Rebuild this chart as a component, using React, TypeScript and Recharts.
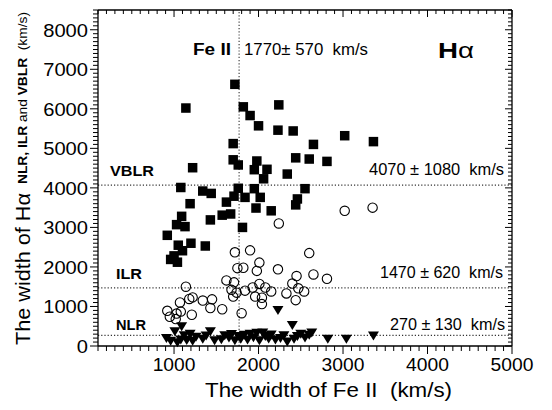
import { ScatterChart, Scatter, XAxis, YAxis, ReferenceLine } from "recharts";

const FONT = "'Liberation Sans', Arial, Helvetica, sans-serif";

// VBLR component (filled squares): Fe II width vs H-alpha width, km/s
const vblrFe = [1720, 1140, 1820, 2240, 1900, 2000, 2230, 2410, 2650, 1700, 1700, 1760, 1980, 1950, 2100, 2440, 2600, 2340, 2060, 1220, 1080, 1760, 1950, 2550, 1340, 1440, 1710, 1840, 2020, 2460, 2440, 1620, 1190, 1970, 2150, 1670, 1570, 1430, 1090, 1030, 1130, 1810, 920, 1050, 1200, 1370, 1100, 1000, 960, 1040, 3020, 3360, 2810];
const vblrHa = [6620, 6020, 6050, 6100, 5830, 5570, 5460, 5440, 5100, 5120, 4710, 4580, 4680, 4460, 4470, 4760, 4730, 4350, 4230, 4510, 4010, 3990, 3980, 3980, 3920, 3860, 3790, 3760, 3760, 3720, 3570, 3640, 3600, 3490, 3420, 3340, 3310, 3190, 3280, 3070, 3020, 3000, 2800, 2550, 2600, 2530, 2410, 2280, 2190, 2120, 5320, 5170, 4670];

// ILR component (open circles)
const ilrFe = [2240, 3020, 3350, 1720, 1900, 2600, 2010, 1750, 1820, 1980, 2230, 2450, 2650, 2810, 1620, 1710, 2400, 2010, 2080, 1680, 1840, 1740, 1700, 1930, 1960, 2040, 2040, 2150, 2330, 2440, 2470, 2540, 1140, 1070, 1180, 1220, 1340, 1450, 1430, 1570, 1210, 920, 950, 1020, 1030, 1080, 1800];
const ilrHa = [3100, 3420, 3500, 2370, 2420, 2350, 2110, 1970, 1980, 1900, 1940, 1770, 1810, 1700, 1660, 1610, 1580, 1570, 1480, 1420, 1400, 1350, 1250, 1480, 1250, 1220, 1060, 1380, 1330, 1160, 1460, 1380, 1500, 1100, 1190, 1230, 1150, 1180, 960, 930, 790, 890, 740, 680, 820, 870, 830];

// NLR component (filled down triangles)
const nlrFe = [910, 960, 1010, 1040, 1080, 1090, 1120, 1150, 1190, 1220, 1260, 1340, 1380, 1430, 1480, 1560, 1600, 1650, 1680, 1720, 1760, 1790, 1830, 1870, 1900, 1940, 1980, 2010, 2050, 2080, 2120, 2150, 2200, 2230, 2260, 2300, 2340, 2400, 2420, 2460, 2500, 2550, 2600, 2630, 2820, 3040, 3360];
const nlrHa = [190, 120, 360, 80, 150, 490, 260, 140, 300, 120, 220, 170, 250, 360, 130, 160, 260, 200, 290, 130, 240, 170, 270, 150, 300, 210, 320, 130, 330, 240, 180, 280, 150, 900, 190, 260, 100, 520, 170, 240, 300, 200, 270, 330, 170, 170, 250];

// mean widths shown as dotted guide lines
const meanFe = 1770;
const meanVblr = 4070;
const meanIlr = 1470;
const meanNlr = 270;

const xMajor = [1000, 2000, 3000, 4000, 5000];
const yMajor = [0, 1000, 2000, 3000, 4000, 5000, 6000, 7000, 8000];
const xTicks = Array.from({ length: 50 }, (_, i) => 100 + i * 100);
const yTicks = Array.from({ length: 86 }, (_, i) => i * 100);

// frame edges (chart is 552x410, axes take left 98 / right 40 / top 10 / bottom 64)
const PLOT_TOP = 10;
const PLOT_RIGHT = 512;

const toPoints = (xs: number[], ys: number[]) =>
  xs.map((fe, i) => ({ fe, ha: ys[i] }));

const vblr = toPoints(vblrFe, vblrHa);
const ilr = toPoints(ilrFe, ilrHa);
const nlr = toPoints(nlrFe, nlrHa);

const Square = ({ cx, cy }: any) => (
  <rect x={cx - 4.75} y={cy - 4.75} width={9.5} height={9.5} fill="#000" />
);
const Ring = ({ cx, cy }: any) => (
  <circle cx={cx} cy={cy} r={4.7} fill="none" stroke="#000" strokeWidth={1.1} />
);
const DownTriangle = ({ cx, cy }: any) => (
  <path
    d={`M${cx - 5.5},${cy - 4.5}L${cx + 5.5},${cy - 4.5}L${cx},${cy + 4.5}Z`}
    fill="#000"
  />
);

// bottom ticks point outward, mirrored ticks on the top edge point inward
const renderBottomTick = ({ x, y, payload }: any) => {
  const major = xMajor.includes(payload.value);
  const label = String(payload.value);
  return (
    <g key={`b-${payload.value}`}>
      <line x1={x} x2={x} y1={y} y2={y + (major ? 8 : 5)} stroke="#000" strokeWidth={1} />
      <line x1={x} x2={x} y1={PLOT_TOP} y2={PLOT_TOP + (major ? 7 : 4)} stroke="#000" strokeWidth={1} />
      {major && (
        <text
          x={x}
          y={y + 25}
          textAnchor="middle"
          fontSize={19}
          fontFamily={FONT}
          fill="#000"
          textLength={label.length * 10.7}
          lengthAdjust="spacingAndGlyphs"
        >
          {label}
        </text>
      )}
    </g>
  );
};

const renderLeftTick = ({ x, y, payload }: any) => {
  const major = yMajor.includes(payload.value);
  const label = String(payload.value);
  return (
    <g key={`l-${payload.value}`}>
      <line x1={x - (major ? 8 : 5)} x2={x} y1={y} y2={y} stroke="#000" strokeWidth={1} />
      <line x1={PLOT_RIGHT - (major ? 7 : 4)} x2={PLOT_RIGHT} y1={y} y2={y} stroke="#000" strokeWidth={1} />
      {major && (
        <text
          x={x - 10}
          y={y + 7}
          textAnchor="end"
          fontSize={19}
          fontFamily={FONT}
          fill="#000"
          textLength={label.length * 11.2}
          lengthAdjust="spacingAndGlyphs"
        >
          {label}
        </text>
      )}
    </g>
  );
};

const axisLine = { stroke: "#000", strokeWidth: 1.3 };
const guide = { stroke: "#333", strokeDasharray: "1.2 2", strokeWidth: 1.1 };

export default function App() {
  const txt = { fontFamily: FONT, fill: "#000", style: { whiteSpace: "pre" as const } };
  return (
    <div style={{ position: "absolute", left: 0, top: 0, width: 552, height: 410, background: "#fff" }}>
      <ScatterChart width={552} height={410} margin={{ top: 0, right: 0, bottom: 0, left: 0 }}>
        <XAxis
          dataKey="fe"
          type="number"
          domain={[100, 5000]}
          ticks={xTicks}
          interval={0}
          height={64}
          tickSize={0}
          tickMargin={0}
          tickLine={false}
          axisLine={axisLine}
          tick={renderBottomTick}
        />
        <XAxis
          xAxisId="top"
          orientation="top"
          type="number"
          domain={[100, 5000]}
          height={10}
          tickLine={false}
          axisLine={axisLine}
          tick={false}
        />
        <YAxis
          dataKey="ha"
          type="number"
          domain={[0, 8500]}
          ticks={yTicks}
          interval={0}
          width={98}
          tickSize={0}
          tickMargin={0}
          tickLine={false}
          axisLine={axisLine}
          tick={renderLeftTick}
        />
        <YAxis
          yAxisId="right"
          orientation="right"
          type="number"
          domain={[0, 8500]}
          width={40}
          tickLine={false}
          axisLine={axisLine}
          tick={false}
        />
        <ReferenceLine x={meanFe} {...guide} />
        <ReferenceLine y={meanVblr} {...guide} />
        <ReferenceLine y={meanIlr} {...guide} />
        <ReferenceLine y={meanNlr} {...guide} />
        <Scatter data={vblr} shape={Square} isAnimationActive={false} />
        <Scatter data={ilr} shape={Ring} isAnimationActive={false} />
        <Scatter data={nlr} shape={DownTriangle} isAnimationActive={false} />
      </ScatterChart>
      <svg width={552} height={410} style={{ position: "absolute", left: 0, top: 0, pointerEvents: "none" }}>
        <text {...txt} x={205} y={397} fontSize={20} textLength={247} lengthAdjust="spacingAndGlyphs">
          The width of Fe II  (km/s)
        </text>
        <text {...txt} transform="translate(30,345) rotate(-90)" fontSize={20} textLength={152} lengthAdjust="spacingAndGlyphs">
          The width of Hα
        </text>
        <text {...txt} transform="translate(27,184) rotate(-90)" fontSize={13} textLength={172} lengthAdjust="spacingAndGlyphs">
          <tspan fontWeight="bold">NLR, ILR</tspan> and <tspan fontWeight="bold">VBLR</tspan>  (km/s)
        </text>
        <text {...txt} x={193} y={55} fontSize={16} fontWeight="bold" textLength={38} lengthAdjust="spacingAndGlyphs">
          Fe II
        </text>
        <text {...txt} x={244} y={55} fontSize={16} textLength={124} lengthAdjust="spacingAndGlyphs">
          1770± 570  km/s
        </text>
        <text {...txt} x={438} y={58} fontSize={22} textLength={36} lengthAdjust="spacingAndGlyphs">
          <tspan fontWeight="bold">H</tspan>α
        </text>
        <text {...txt} x={110} y={176} fontSize={15} fontWeight="bold" textLength={44} lengthAdjust="spacingAndGlyphs">
          VBLR
        </text>
        <text {...txt} x={116} y={279} fontSize={15} fontWeight="bold" textLength={26} lengthAdjust="spacingAndGlyphs">
          ILR
        </text>
        <text {...txt} x={116} y={330} fontSize={15} fontWeight="bold" textLength={30} lengthAdjust="spacingAndGlyphs">
          NLR
        </text>
        <text {...txt} x={369} y={175} fontSize={16} textLength={135} lengthAdjust="spacingAndGlyphs">
          4070 ± 1080  km/s
        </text>
        <text {...txt} x={380} y={278} fontSize={16} textLength={123} lengthAdjust="spacingAndGlyphs">
          1470 ± 620  km/s
        </text>
        <text {...txt} x={390} y={330} fontSize={16} textLength={115} lengthAdjust="spacingAndGlyphs">
          270 ± 130  km/s
        </text>
      </svg>
    </div>
  );
}
